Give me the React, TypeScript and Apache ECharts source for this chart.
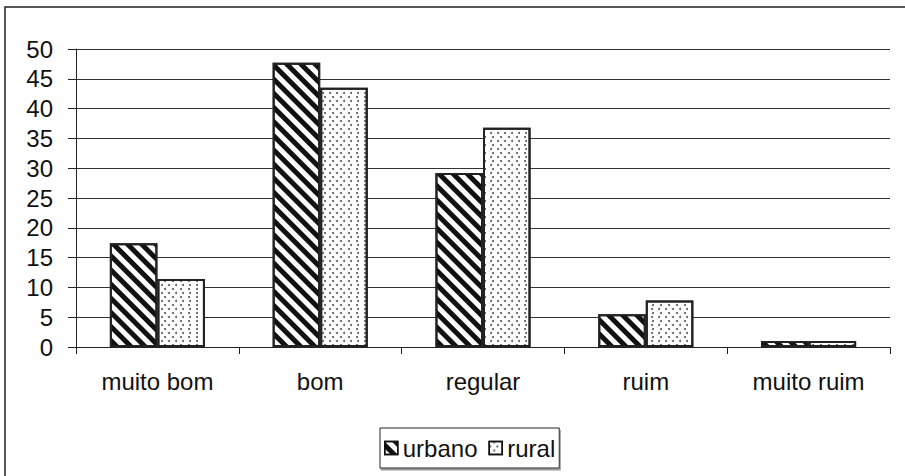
import React, { useEffect, useRef } from "react";
import * as echarts from "echarts";

const categories = ["muito bom", "bom", "regular", "ruim", "muito ruim"];
const urbano = [17.4, 47.7, 29.2, 5.5, 1.0];
const rural = [11.4, 43.5, 36.8, 7.8, 1.0];
const seriesNames = ["urbano", "rural"];

const FONT = "'Liberation Sans', Arial, sans-serif";

const stripeDecal = {
  symbol: "rect",
  symbolSize: 1,
  color: "#111",
  backgroundColor: "#fff",
  dashArrayX: [1, 0],
  dashArrayY: [4.5, 4.5],
  rotation: Math.PI / 4,
};

const dotDecal = {
  symbol: "circle",
  symbolSize: 1,
  color: "#555",
  backgroundColor: "#fff",
  dashArrayX: [
    [1.8, 4.7],
    [0, 3.3, 1.8, 1.4],
  ],
  dashArrayY: [1.8, 2.0],
  rotation: 0,
};

export default function App() {
  const ref = useRef<HTMLDivElement>(null);
  useEffect(() => {
    document.body.style.margin = "0";
    if (!ref.current) return;
    const chart = echarts.init(ref.current, undefined, { renderer: "svg" });
    chart.setOption({
      animation: false,
      backgroundColor: "#fff",
      textStyle: { fontFamily: FONT },
      graphic: [
        {
          type: "polyline",
          z: 100,
          silent: true,
          shape: {
            points: [
              [5, 476],
              [5, 7],
              [905, 7],
            ],
          },
          style: { fill: null, stroke: "#222", lineWidth: 1.5 },
        },
      ],
      grid: { left: 76, right: 15, top: 49, bottom: 129 },
      legend: {
        left: 380,
        top: 428,
        padding: [8, 4, 8, 4],
        itemGap: 11,
        itemWidth: 13,
        itemHeight: 13,
        icon: "rect",
        borderColor: "#222",
        borderWidth: 1,
        backgroundColor: "#fff",
        shadowColor: "#999",
        shadowOffsetX: 1,
        shadowOffsetY: 2,
        shadowBlur: 0,
        textStyle: { fontSize: 24, color: "#111", fontFamily: FONT },
        data: [
          {
            name: seriesNames[0],
            itemStyle: { color: "#fff", borderColor: "#111", borderWidth: 1.5, decal: stripeDecal },
          },
          {
            name: seriesNames[1],
            itemStyle: { color: "#fff", borderColor: "#111", borderWidth: 1.5, decal: dotDecal },
          },
        ],
      },
      xAxis: {
        type: "category",
        data: categories,
        axisLine: { lineStyle: { color: "#222", width: 1 } },
        axisTick: { show: true, length: 7, lineStyle: { color: "#222" } },
        axisLabel: { fontSize: 24, color: "#111", margin: 22, fontFamily: FONT },
      },
      yAxis: {
        type: "value",
        min: 0,
        max: 50,
        interval: 5,
        axisLine: { show: true, lineStyle: { color: "#222", width: 1 } },
        axisTick: { show: true, length: 8, lineStyle: { color: "#222" } },
        splitLine: { show: true, lineStyle: { color: "#333", width: 1 } },
        axisLabel: { fontSize: 24, color: "#111", margin: 23, fontFamily: FONT },
      },
      series: [
        {
          name: seriesNames[0],
          type: "bar",
          data: urbano,
          barGap: "0%",
          barCategoryGap: "41.6%",
          itemStyle: {
            color: "#fff",
            borderColor: "#222",
            borderWidth: 2,
            decal: stripeDecal,
          },
        },
        {
          name: seriesNames[1],
          type: "bar",
          data: rural,
          barGap: "0%",
          barCategoryGap: "41.6%",
          itemStyle: {
            color: "#fff",
            borderColor: "#222",
            borderWidth: 2,
            decal: dotDecal,
          },
        },
      ],
    });
    return () => chart.dispose();
  }, []);
  return <div ref={ref} style={{ width: 905, height: 476 }} />;
}
